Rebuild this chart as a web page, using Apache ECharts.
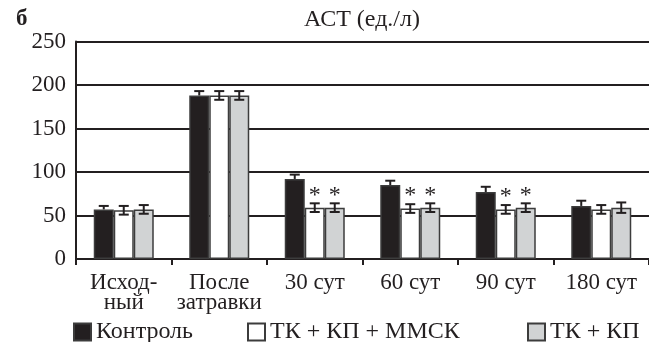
<!DOCTYPE html>
<html><head><meta charset="utf-8">
<script src="https://cdn.jsdelivr.net/npm/echarts@6/dist/echarts.min.js"></script>
<style>html,body{margin:0;padding:0;background:#fff}#c{width:649px;height:342px}</style>
</head><body><div id="c"></div>
<script>
const categories = ['Исход-\nный', 'После\nзатравки', '30 сут', '60 сут', '90 сут', '180 сут'];
const seriesNames = ['Контроль', 'ТК + КП + ММСК', 'ТК + КП'];
const control = [57, 188, 92, 85, 77, 61];
const controlErr = [4, 5, 5, 5, 6, 6];
const tkKpMmsk = [56, 188, 59, 58, 57, 57];
const tkKpMmskErr = [5, 5, 5, 5, 5, 5];
const tkKp = [57, 188, 59, 59, 59, 59];
const tkKpErr = [5, 5, 5, 5, 5, 6];
const sigMmsk = [false, false, true, true, true, false];
const sigKp = [false, false, true, true, true, false];
const yTicks = [0, 50, 100, 150, 200, 250];

const FONT = '"Liberation Serif", "Times New Roman", serif';
const BW = 20;
const values = [control, tkKpMmsk, tkKp];
const errs = [controlErr, tkKpMmskErr, tkKpErr];
const sigs = [null, sigMmsk, sigKp];
const fills = ['#231f20', '#ffffff', '#d1d3d4'];
const offsets = [-BW, 0, BW];

const chart = echarts.init(document.getElementById('c'));
const series = [];
values.forEach((v, i) => {
  series.push({
    type: 'bar', name: seriesNames[i], data: v, barWidth: BW, barGap: '0%',
    itemStyle: { color: fills[i], borderColor: '#3c3c3c', borderWidth: 1.5 },
    animation: false, z: 2
  });
});
values.forEach((v, i) => {
  series.push({
    type: 'custom', name: 'err' + i, silent: true, animation: false, z: 5,
    data: v.map((val, k) => [k, val, errs[i][k], sigs[i] && sigs[i][k] ? 1 : 0]),
    renderItem: function (params, api) {
      const k = api.value(0), val = api.value(1), e = api.value(2), s = api.value(3);
      const top = api.coord([k, val + e]);
      const bot = api.coord([k, val - e]);
      const x = top[0] + offsets[i];
      const hw = 5;
      const st = { stroke: '#231f20', lineWidth: 2 };
      const children = [];
      const yb = i === 0 ? api.coord([k, val])[1] : bot[1];
      children.push({ type: 'line', shape: { x1: x, y1: top[1], x2: x, y2: yb }, style: st });
      children.push({ type: 'line', shape: { x1: x - hw, y1: top[1], x2: x + hw, y2: top[1] }, style: st });
      if (i !== 0) children.push({ type: 'line', shape: { x1: x - hw, y1: bot[1], x2: x + hw, y2: bot[1] }, style: st });
      if (s) children.push({ type: 'text', style: { text: '*', x: x, y: top[1] + 4, align: 'center', verticalAlign: 'bottom', font: '24px ' + FONT, fill: '#231f20' } });
      return { type: 'group', children: children };
    }
  });
});

const legendBase = { icon: 'rect', itemWidth: 17, itemHeight: 17, bottom: -7, textStyle: { fontFamily: FONT, fontSize: 24, color: '#231f20' }, itemGap: 10, selectedMode: false };
chart.setOption({
  backgroundColor: '#fff',
  animation: false,
  title: [
    { text: 'АСТ (ед./л)', left: 299, top: 3, textStyle: { fontFamily: FONT, fontSize: 24, fontWeight: 'normal', color: '#231f20' } },
    { text: 'б', left: 11, top: 3, textStyle: { fontFamily: FONT, fontSize: 23, fontWeight: 'bold', color: '#231f20' } }
  ],
  legend: [
    Object.assign({}, legendBase, { left: 68, data: [seriesNames[0]] }),
    Object.assign({}, legendBase, { left: 242, data: [seriesNames[1]] }),
    Object.assign({}, legendBase, { left: 522, data: [seriesNames[2]] })
  ],
  grid: { left: 76, top: 41.5, width: 576, bottom: 83, containLabel: false },
  xAxis: {
    type: 'category', data: categories,
    axisLine: { lineStyle: { color: '#231f20', width: 2 } },
    axisTick: { show: true, length: 6, lineStyle: { color: '#231f20', width: 2 } },
    axisLabel: { interval: 0, fontFamily: FONT, fontSize: 23, color: '#231f20', lineHeight: 20, margin: 14 }
  },
  yAxis: {
    type: 'value', min: yTicks[0], max: yTicks[yTicks.length - 1], interval: 50,
    axisLine: { show: true, lineStyle: { color: '#231f20', width: 2 } },
    axisTick: { show: false },
    splitLine: { lineStyle: { color: '#231f20', width: 2 } },
    axisLabel: { fontFamily: FONT, fontSize: 23, color: '#231f20', margin: 10 }
  },
  series: series
});
</script></body></html>
